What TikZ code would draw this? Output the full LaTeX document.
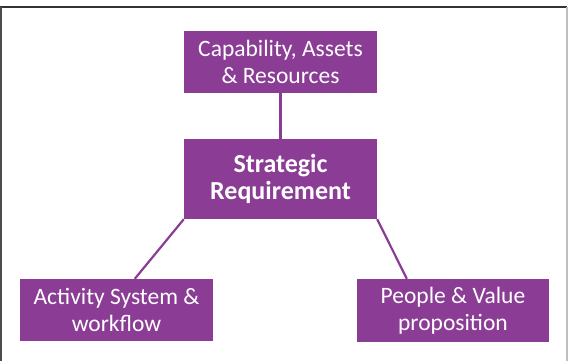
\documentclass[tikz,border=0pt]{standalone}
\usepackage{fontspec}
\setmainfont{Carlito}
\usetikzlibrary{positioning}

\definecolor{plum}{RGB}{139,61,149}

\begin{document}
\begin{tikzpicture}[x=1pt, y=-1pt,
	box/.style={fill=plum, text=white, align=center, inner sep=0pt, font=\fontsize{23.5}{27}\selectfont},
	link/.style={draw=plum, line width=2.2pt}]
	\useasboundingbox (0,0) rectangle (568,361);
	% frame
	\draw[black!80, line width=2.2pt] (0,7) -- (567,7);
	\draw[black!70, line width=1.6pt] (1,7) -- (1,361);
	\draw[black!25, line width=1.4pt] (567,7) -- (567,361);
	% boxes
	\node[box, minimum width=193pt, minimum height=62pt] (cap) at (280.5,62) {Capability, Assets\\ \& Resources};
	\node[box, minimum width=193pt, minimum height=80pt, font=\fontsize{26}{27}\selectfont\bfseries] (req) at (280.5,179) {Strategic\\ Requirement};
	\node[box, minimum width=193pt, minimum height=62pt] (act) at (116.5,310) {Activity System \&\\ workflow};
	\node[box, minimum width=192pt, minimum height=63pt] (ppl) at (453,310.5) {People \& Value\\ proposition};
	% link ends
	\path (act.north west) ++(115,0) coordinate (actend);
	\path (ppl.north west) ++(50,0) coordinate (pplend);
	% links
	\draw[link] (cap) -- (req);
	\draw[link] (req.south west) -- (actend);
	\draw[link] (req.south east) -- (pplend);
\end{tikzpicture}
\end{document}
